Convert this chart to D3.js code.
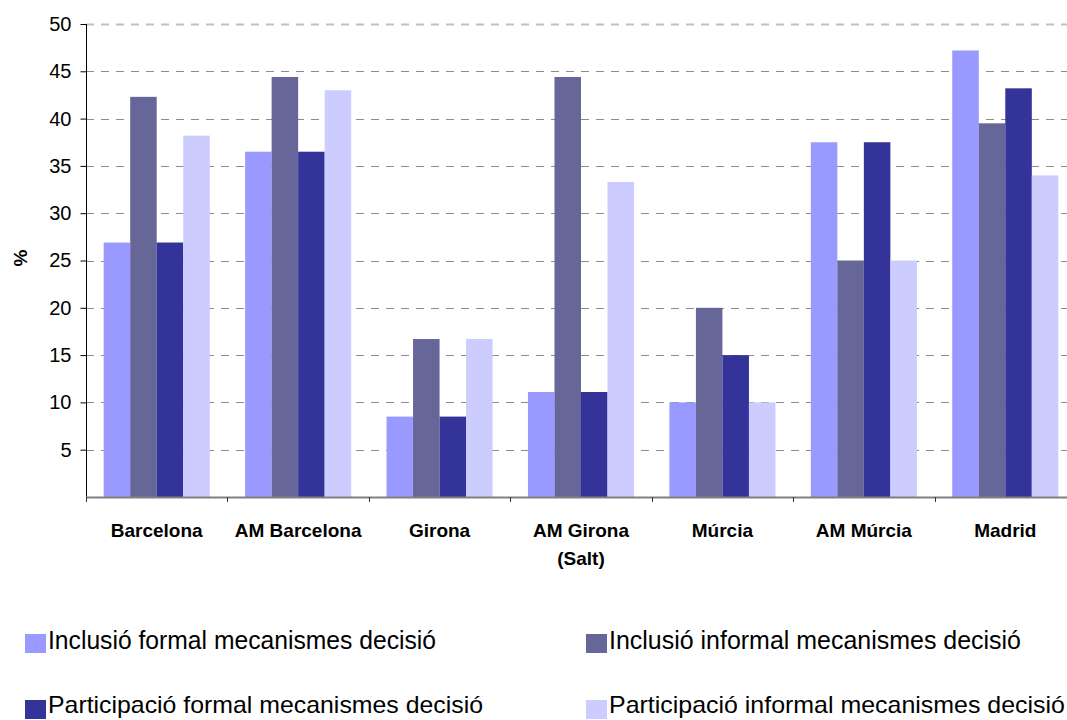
<!DOCTYPE html>
<html>
<head>
<meta charset="utf-8">
<script src="https://cdn.jsdelivr.net/npm/d3@7"></script>
<style>
  html, body { margin: 0; padding: 0; background: #fff; }
  svg { display: block; font-family: "Liberation Sans", Arial, sans-serif; }
</style>
</head>
<body>
<svg id="chart" width="1067" height="720"></svg>
<script>
const categories = ["Barcelona", "AM Barcelona", "Girona", "AM Girona|(Salt)", "Múrcia", "AM Múrcia", "Madrid"];
const seriesNames = [
  "Inclusió formal mecanismes decisió",
  "Inclusió informal mecanismes decisió",
  "Participació formal mecanismes decisió",
  "Participació informal mecanismes decisió"
];
const inclusioFormal       = [26.9, 36.5, 8.5, 11.1, 10.0, 37.5, 47.2];
const inclusioInformal     = [42.3, 44.4, 16.7, 44.4, 20.0, 25.0, 39.5];
const participacioFormal   = [26.9, 36.5, 8.5, 11.1, 15.0, 37.5, 43.2];
const participacioInformal = [38.2, 43.0, 16.7, 33.3, 10.0, 25.0, 34.0];
const seriesValues = [inclusioFormal, inclusioInformal, participacioFormal, participacioInformal];
const colors = ["#9999FF", "#666699", "#333399", "#CCCCFF"];
const yTicks = [5, 10, 15, 20, 25, 30, 35, 40, 45, 50];

const svg = d3.select("#chart");
const mLeft = 86, mRight = 1076, mTop = 24, mBottom = 497;

const x0 = d3.scaleBand().domain(categories).range([mLeft, mRight]).paddingInner(0).paddingOuter(0);
const x1 = d3.scaleBand().domain(d3.range(seriesNames.length))
  .range([x0.bandwidth() * 0.125, x0.bandwidth() * 0.875]).paddingInner(0);
const y = d3.scaleLinear().domain([0, 50]).range([mBottom, mTop]);

// gridlines
svg.append("g").selectAll("line").data(yTicks).join("line")
  .attr("x1", mLeft).attr("x2", 1067)
  .attr("y1", d => Math.round(y(d)) + 0.5).attr("y2", d => Math.round(y(d)) + 0.5)
  .attr("stroke", d => d === 50 ? "#c0c0c0" : "#8c8c8c")
  .attr("stroke-width", d => d === 50 ? 2 : 1)
  .attr("stroke-dasharray", "8,7");

// bars
const groups = svg.append("g").selectAll("g").data(categories).join("g")
  .attr("transform", d => `translate(${x0(d)},0)`);
groups.selectAll("rect")
  .data((d, i) => seriesValues.map((vals, s) => ({ s, v: vals[i] })))
  .join("rect")
  .attr("x", d => x1(d.s))
  .attr("width", x1.bandwidth())
  .attr("y", d => y(d.v))
  .attr("height", d => y(0) - y(d.v))
  .attr("fill", d => colors[d.s]);

// y axis
const yAxis = d3.axisLeft(y).tickValues(yTicks).tickSize(6).tickPadding(9).tickFormat(d3.format("d"));
const gy = svg.append("g").attr("transform", `translate(${mLeft + 0.5},0)`).call(yAxis);
gy.select(".domain").attr("d", `M0,${mTop}V${mBottom}`).attr("stroke", "#000");
gy.selectAll(".tick line").attr("stroke", "#000");
gy.selectAll(".tick text").attr("font-size", 20).attr("fill", "#000")
  .attr("font-family", "'Liberation Sans', Arial, sans-serif");

// x axis
const boundaries = categories.map(c => x0(c));
const gx = svg.append("g");
gx.append("line").attr("x1", mLeft).attr("x2", 1067).attr("y1", mBottom + 0.5).attr("y2", mBottom + 0.5)
  .attr("stroke", "#808080").attr("stroke-width", 2);
gx.selectAll("line.tk").data(boundaries).join("line").attr("class", "tk")
  .attr("x1", d => Math.round(d) + 0.5).attr("x2", d => Math.round(d) + 0.5)
  .attr("y1", mBottom).attr("y2", mBottom + 5).attr("stroke", "#333");
const labels = gx.selectAll("text.cat").data(categories).join("text").attr("class", "cat")
  .attr("x", d => x0(d) + x0.bandwidth() / 2)
  .attr("y", 537)
  .attr("text-anchor", "middle")
  .attr("font-size", 19).attr("font-weight", "bold").attr("fill", "#000");
labels.each(function(d) {
  const parts = d.split("|");
  const t = d3.select(this);
  parts.forEach((p, i) => {
    t.append("tspan").attr("x", x0(d) + x0.bandwidth() / 2).attr("dy", i === 0 ? 0 : 28).text(p);
  });
});

// y label
svg.append("text").attr("transform", "translate(27,258) rotate(-90)")
  .attr("text-anchor", "middle").attr("font-size", 19).attr("font-weight", "bold").text("%");

// legend
const legendPos = [
  { x: 25, y: 634 }, { x: 586, y: 634 },
  { x: 25, y: 700 }, { x: 586, y: 700 }
];
const lg = svg.append("g").selectAll("g").data(seriesNames).join("g")
  .attr("transform", (d, i) => `translate(${legendPos[i].x},${legendPos[i].y})`);
lg.append("rect").attr("width", 21).attr("height", 19).attr("fill", (d, i) => colors[i]);
lg.append("text").attr("x", 23).attr("y", (d, i) => i < 2 ? 15 : 13).attr("font-size", (d, i) => i < 2 ? 25 : 24).attr("fill", "#000")
  .attr("textLength", (d, i) => [388, 412, 435, 456][i])
  .attr("lengthAdjust", "spacingAndGlyphs")
  .text(d => d);
</script>
</body>
</html>
